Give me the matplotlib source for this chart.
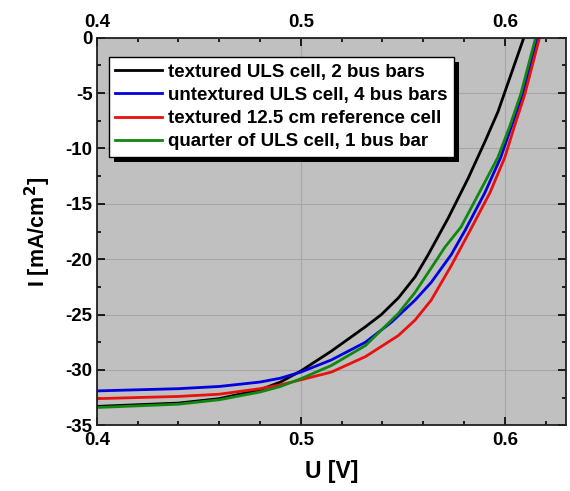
import numpy as np
import matplotlib
matplotlib.use('Agg')
import matplotlib.pyplot as plt
from matplotlib.ticker import MultipleLocator
from matplotlib.patches import Rectangle
from matplotlib.transforms import IdentityTransform

plt.rcParams['font.family'] = ['Liberation Sans', 'DejaVu Sans']
plt.rcParams['font.weight'] = 'bold'
plt.rcParams['mathtext.default'] = 'bf'

# ── I-V curves ──
u_black = [0.40, 0.42, 0.44, 0.46, 0.48, 0.49, 0.50, 0.515, 0.5317, 0.5395, 0.5478,
           0.556, 0.5624, 0.5722, 0.582, 0.5902, 0.5966, 0.6093]
i_black = [-33.3, -33.15, -33.0, -32.6, -31.8, -31.1, -30.1, -28.3, -26.1, -25.0, -23.5,
           -21.6, -19.6, -16.3, -12.7, -9.4, -6.7, 0.0]

u_blue = [0.40, 0.42, 0.44, 0.46, 0.48, 0.49, 0.50, 0.515, 0.5317, 0.5444, 0.556,
          0.5639, 0.5737, 0.5805, 0.5902, 0.598, 0.6044, 0.6088, 0.616]
i_blue = [-31.9, -31.8, -31.7, -31.5, -31.1, -30.75, -30.2, -29.1, -27.5, -25.7, -23.7,
          -22.1, -19.6, -17.4, -14.0, -10.8, -7.4, -5.1, 0.0]

u_red = [0.40, 0.42, 0.44, 0.46, 0.48, 0.49, 0.50, 0.515, 0.5317, 0.5478, 0.556,
         0.5639, 0.5737, 0.583, 0.5927, 0.600, 0.6054, 0.6098, 0.617]
i_red = [-32.6, -32.5, -32.4, -32.2, -31.7, -31.35, -30.9, -30.2, -28.8, -26.9, -25.5,
         -23.7, -20.6, -17.4, -14.0, -10.8, -7.6, -5.1, 0.0]

u_green = [0.40, 0.42, 0.44, 0.46, 0.48, 0.49, 0.50, 0.515, 0.5317, 0.5395, 0.5478,
           0.556, 0.5639, 0.5707, 0.5785, 0.5883, 0.5966, 0.6024, 0.6078, 0.6151]
i_green = [-33.4, -33.25, -33.1, -32.7, -32.0, -31.5, -30.8, -29.6, -27.8, -26.4, -24.9,
           -23.0, -20.8, -18.9, -17.1, -13.7, -10.8, -8.0, -5.1, 0.0]

labels = ['textured ULS cell, 2 bus bars',
          'untextured ULS cell, 4 bus bars',
          'textured 12.5 cm reference cell',
          'quarter of ULS cell, 1 bus bar']

fig = plt.figure(figsize=(5.7, 4.91), dpi=100)
ax = fig.add_axes([0.170, 0.134, 0.823, 0.789])
ax.set_facecolor('#c0c0c0')

ax.plot(u_black, i_black, color='black', lw=2.0, label=labels[0])
ax.plot(u_blue, i_blue, color='#0000e0', lw=2.0, label=labels[1])
ax.plot(u_red, i_red, color='#e81010', lw=2.0, label=labels[2])
ax.plot(u_green, i_green, color='#108810', lw=2.0, label=labels[3])

ax.set_xlim(0.4, 0.63)
ax.set_ylim(-35, 0)
ax.xaxis.set_major_locator(MultipleLocator(0.1))
ax.xaxis.set_minor_locator(MultipleLocator(0.02))
ax.yaxis.set_major_locator(MultipleLocator(5))
ax.yaxis.set_minor_locator(MultipleLocator(2.5))
ax.xaxis.set_major_formatter(plt.FuncFormatter(lambda v, p: f'{v:.1f}'))
ax.yaxis.set_major_formatter(plt.FuncFormatter(lambda v, p: f'{v:.0f}'))

ax.tick_params(which='both', direction='in', top=True, right=True,
               labeltop=True, width=1.2)
ax.tick_params(which='major', length=6, labelsize=13.5)
ax.tick_params(axis='x', which='major', pad=5)
ax.tick_params(axis='y', which='major', pad=3)
ax.tick_params(which='minor', length=3)
for s in ax.spines.values():
    s.set_linewidth(1.3)
    s.set_color('#202020')

ax.grid(True, which='major', color='#a6a6a6', lw=0.8)
ax.set_axisbelow(True)

ax.set_xlabel('U [V]', fontsize=16.5, fontweight='bold', labelpad=8)
ax.set_ylabel('I [mA/cm$^2$]', fontsize=15.5, fontweight='bold', labelpad=9)

leg = ax.legend(loc='upper left', bbox_to_anchor=(0.005, 0.975),
                frameon=True, fancybox=False, edgecolor='black', framealpha=1.0,
                handlelength=2.5, handletextpad=0.3, labelspacing=0.33,
                borderpad=0.35, prop={'weight': 'bold', 'size': 13.5})
leg.get_frame().set_linewidth(1.0)
leg.set_zorder(6)

# offset black shadow behind the legend box
fig.canvas.draw()
bb = leg.get_frame().get_window_extent(fig.canvas.get_renderer())
ax.add_artist(Rectangle((bb.x0 + 5, bb.y0 - 5), bb.width, bb.height,
                        transform=IdentityTransform(), facecolor='black',
                        edgecolor='none', zorder=5.5, clip_on=False))

fig.savefig('out.png', dpi=100)
